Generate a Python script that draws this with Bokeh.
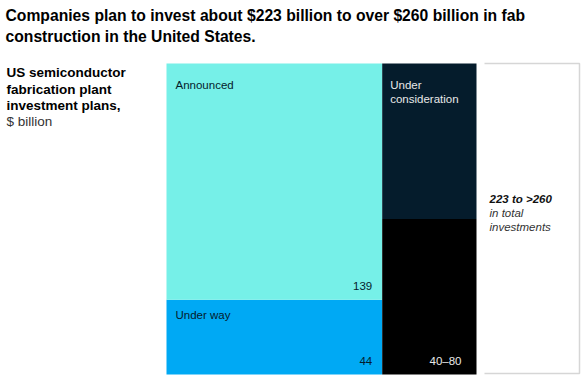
from bokeh.plotting import figure
from bokeh.models import Range1d, ColumnDataSource
from bokeh.core.properties import value
from bokeh.embed import file_html
from bokeh.resources import INLINE

# ---------------- data ----------------
title_lines = ["Companies plan to invest about $223 billion to over $260 billion in fab",
               "construction in the United States."]
subtitle_bold = ["US semiconductor", "fabrication plant", "investment plans,"]
subtitle_unit = "$ billion"

left_segments = ["Under way", "Announced"]
left_values = [44, 139]
left_colors = ["#00A9F4", "#76F0E8"]

right_segments = ["", "Under consideration"]
right_values = [40, 40]          # 40 certain, up to 80 in total
right_colors = ["#000000", "#051C2C"]
right_value_label = "40\u201380"

total_lines = ["223 to >260", "in total", "investments"]

# ---------------- layout ----------------
W, H = 586, 379
BAR_LEFT, BAR_TOP, BAR_BOTTOM, BAR_W = 166, 63, 374, 310
FONT = "Liberation Sans"
DARK = "#051C2C"

left_total = sum(left_values)
right_total = sum(right_values)
grand = left_total + right_total
kx = BAR_W / grand
ky = BAR_BOTTOM - BAR_TOP

def dx(fx):
    return (fx - BAR_LEFT) / kx

def dy(fy):
    return (BAR_BOTTOM - fy) / ky

p = figure(width=W, height=H, output_backend="svg", toolbar_location=None,
           x_range=Range1d(dx(0), dx(W)), y_range=Range1d(dy(H), dy(0)),
           min_border=0, outline_line_color=None)
p.axis.visible = False
p.grid.visible = False
p.background_fill_color = "white"
p.border_fill_color = "white"

# left column (width proportional to column total)
lb, lt = [], []
acc = 0
for v in left_values:
    lb.append(acc / left_total)
    acc += v
    lt.append(acc / left_total)
src_l = ColumnDataSource(dict(left=[0] * 2, right=[left_total] * 2, bottom=lb, top=lt,
                              color=left_colors))
p.quad(left="left", right="right", bottom="bottom", top="top", fill_color="color",
       line_color=None, source=src_l)

rb, rt = [], []
acc = 0
for v in right_values:
    rb.append(acc / right_total)
    acc += v
    rt.append(acc / right_total)
src_r = ColumnDataSource(dict(left=[left_total] * 2, right=[grand] * 2, bottom=rb, top=rt,
                              color=right_colors))
p.quad(left="left", right="right", bottom="bottom", top="top", fill_color="color",
       line_color=None, source=src_r)

def txt(x, y, s, size, color, style="normal", align="left", xo=0, yo=0):
    p.text(x=[x], y=[y], text=[s], text_font=value(FONT), text_font_size=f"{size}px",
           text_font_style=style, text_color=color, text_align=align,
           text_baseline="middle", x_offset=xo, y_offset=yo)

LBL = 11.5
LIGHT = "#E8E8E8"
# segment labels
txt(0, lt[1], left_segments[1], LBL, DARK, xo=9, yo=21)
txt(left_total, lb[1], str(left_values[1]), LBL, DARK, align="right", xo=-10, yo=-14)
txt(0, lt[0], left_segments[0], LBL, DARK, xo=9, yo=15)
txt(left_total, lb[0], str(left_values[0]), LBL, DARK, align="right", xo=-10, yo=-14)

txt(left_total, rt[1], "Under", LBL, LIGHT, xo=8, yo=21)
txt(left_total, rt[1], "consideration", LBL, LIGHT, xo=8, yo=35)
txt(grand, rb[0], right_value_label, LBL, LIGHT, align="right", xo=-15, yo=-14)

# bracket for total
bx0, bx1 = dx(484), dx(579)
by0, by1 = dy(BAR_TOP), dy(BAR_BOTTOM - 1)
p.line(x=[bx0, bx1, bx1, bx0], y=[by0, by0, by1, by1], line_color="#D6D6D6", line_width=1.5)
txt(dx(489), dy(198), total_lines[0], LBL, "#111111", style="bold italic")
txt(dx(489), dy(212), total_lines[1], LBL, "#333333", style="italic")
txt(dx(489), dy(226), total_lines[2], LBL, "#333333", style="italic")

# title
txt(dx(5), dy(15), title_lines[0], 15.7, "#000000", style="bold")
txt(dx(5), dy(36), title_lines[1], 15.7, "#000000", style="bold")

# subtitle
for i, s in enumerate(subtitle_bold):
    txt(dx(6), dy(72 + 16.5 * i), s, 13.5, "#000000", style="bold")
txt(dx(6), dy(121), subtitle_unit, 13.5, "#333333")

open("out.html", "w").write(file_html(p, INLINE))
